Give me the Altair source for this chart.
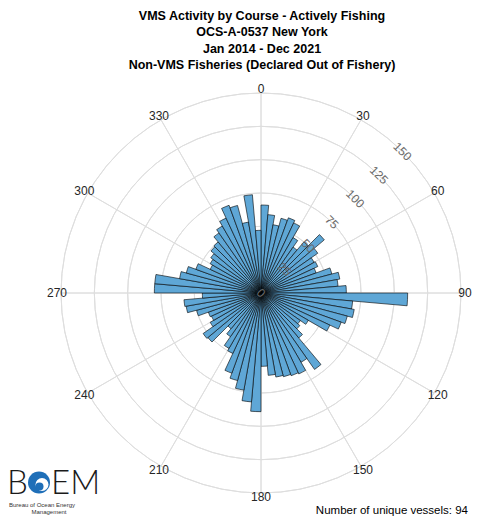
import math
import altair as alt
import pandas as pd

# ---- data ----
bin_starts = list(range(0, 360, 5))
counts = [66, 59, 52, 58, 60, 58, 48, 42, 50, 62, 52, 46,
          47, 44, 55, 60, 58, 64, 110, 69, 71, 67, 64, 57,
          41, 36, 38, 44, 70, 60, 67, 66, 65, 64, 62, 55,
          89, 82, 74, 68, 64, 50, 48, 40, 35, 52, 53, 44,
          41, 42, 50, 57, 58, 44, 80, 80, 62, 58, 52, 42,
          44, 46, 49, 50, 55, 58, 62, 70, 68, 54, 74, 47]
bin_width = 5
ring_values = [25, 50, 75, 100, 125, 150]
radius_tick_values = [0, 25, 50, 75, 100, 125, 150]
spoke_angles = list(range(0, 360, 30))
angle_tick_labels = [str(a) for a in spoke_angles]
title_lines = ["VMS Activity by Course - Actively Fishing",
               "OCS-A-0537 New York",
               "Jan 2014 - Dec 2021",
               "Non-VMS Fisheries (Declared Out of Fishery)"]
footer_text = "Number of unique vessels: 94"
logo_small_1 = "Bureau of Ocean Energy"
logo_small_2 = "Management"

# ---- layout constants ----
CX, CY = 253, 285
W, H = 466, 511
FONT = "Liberation Sans, Arial, sans-serif"

theta_scale = alt.Scale(domain=[0, 360], range=[0, 2 * math.pi])
r_scale = alt.Scale(type="linear", domain=[0, 150], range=[0, 200], zero=True)

df_bins = pd.DataFrame({"start": bin_starts, "count": counts})
df_rings = pd.DataFrame({"r": ring_values})
df_spokes = pd.DataFrame({"a": spoke_angles})
df_alab = pd.DataFrame({"a": spoke_angles, "label": angle_tick_labels})
df_rlab = pd.DataFrame({"r": radius_tick_values,
                        "label": [str(v) for v in radius_tick_values]})
df_one = pd.DataFrame({"t": ["\n".join(title_lines)]})

center = dict(x=alt.value(CX), y=alt.value(CY))

rings = alt.Chart(df_rings).mark_arc(
    fill="white", fillOpacity=0, stroke="#dedede", strokeWidth=1
).encode(
    theta=alt.value(0), theta2=alt.value(2 * math.pi),
    radius=alt.Radius("r:Q", scale=r_scale), radius2=alt.Radius2("r:Q"),
    **center,
)

spokes = alt.Chart(df_spokes).mark_arc(
    fill="white", fillOpacity=0, stroke="#dedede", strokeWidth=1
).encode(
    theta=alt.Theta("a:Q", scale=theta_scale, stack=False), theta2="a:Q",
    radius=alt.value(200), radius2=alt.value(0),
    **center,
)

bars = alt.Chart(df_bins).transform_calculate(
    end=f"datum.start + {bin_width}"
).mark_arc(
    fill="#5FA7D6", stroke="black", strokeWidth=0.6
).encode(
    theta=alt.Theta("start:Q", scale=theta_scale, stack=False), theta2="end:Q",
    radius=alt.Radius("count:Q", scale=r_scale), radius2=alt.value(0),
    **center,
)

rlabels = alt.Chart(df_rlab).mark_text(
    angle=45, fontSize=12, color="#6a6a6a", font=FONT
).encode(
    theta=alt.value(math.pi / 4),
    radius=alt.Radius("r:Q", scale=r_scale),
    text="label:N",
    **center,
)

alabels = alt.Chart(df_alab).mark_text(
    fontSize=12, color="#262626", font=FONT
).encode(
    theta=alt.Theta("a:Q", scale=theta_scale, stack=False),
    radius=alt.value(204),
    text="label:N",
    **center,
)

title = alt.Chart(df_one).mark_text(
    fontSize=12.5, fontWeight="bold", font=FONT, color="black",
    lineBreak="\n", lineHeight=16.3, baseline="top", align="center"
).encode(x=alt.value(254), y=alt.value(2), text="t:N")

footer = alt.Chart(df_one).mark_text(
    fontSize=11.5, font=FONT, color="black", align="right", baseline="middle"
).encode(x=alt.value(460), y=alt.value(503), text=alt.value(footer_text))

logo_b = alt.Chart(df_one).mark_text(
    fontSize=33, font="Lato", fontWeight=300, color="#1a1a1a",
    align="left", baseline="alphabetic"
).encode(x=alt.value(-1), y=alt.value(486), text=alt.value("B"))

logo_em = alt.Chart(df_one).mark_text(
    fontSize=33, font="Lato", fontWeight=300, color="#1a1a1a",
    align="left", baseline="alphabetic"
).encode(x=alt.value(43), y=alt.value(486), text=alt.value("EM"))

logo_disc = alt.Chart(df_one).mark_arc(fill="#1f6fb8").encode(
    theta=alt.value(0), theta2=alt.value(2 * math.pi),
    radius=alt.value(11), radius2=alt.value(0),
    x=alt.value(31), y=alt.value(474.5),
)
logo_wave = alt.Chart(df_one).mark_arc(fill="white").encode(
    theta=alt.value(0), theta2=alt.value(2 * math.pi),
    radius=alt.value(6.5), radius2=alt.value(0),
    x=alt.value(34), y=alt.value(476.5),
)
logo_wave2 = alt.Chart(df_one).mark_arc(fill="#1f6fb8").encode(
    theta=alt.value(0), theta2=alt.value(2 * math.pi),
    radius=alt.value(4), radius2=alt.value(0),
    x=alt.value(31.5), y=alt.value(478.5),
)

logo_t1 = alt.Chart(df_one).mark_text(
    fontSize=6, font=FONT, color="#333333", align="left", baseline="middle"
).encode(x=alt.value(1), y=alt.value(497), text=alt.value(logo_small_1))
logo_t2 = alt.Chart(df_one).mark_text(
    fontSize=6, font=FONT, color="#333333", align="center", baseline="middle"
).encode(x=alt.value(41), y=alt.value(504), text=alt.value(logo_small_2))

chart = alt.layer(
    rings, spokes, bars, rlabels, alabels, title, footer,
    logo_b, logo_em, logo_disc, logo_wave, logo_wave2, logo_t1, logo_t2
).properties(
    width=W, height=H, autosize="none", padding=0
).configure_view(strokeWidth=0)

chart.save("out.html", embed_options={"renderer": "svg", "actions": False})
